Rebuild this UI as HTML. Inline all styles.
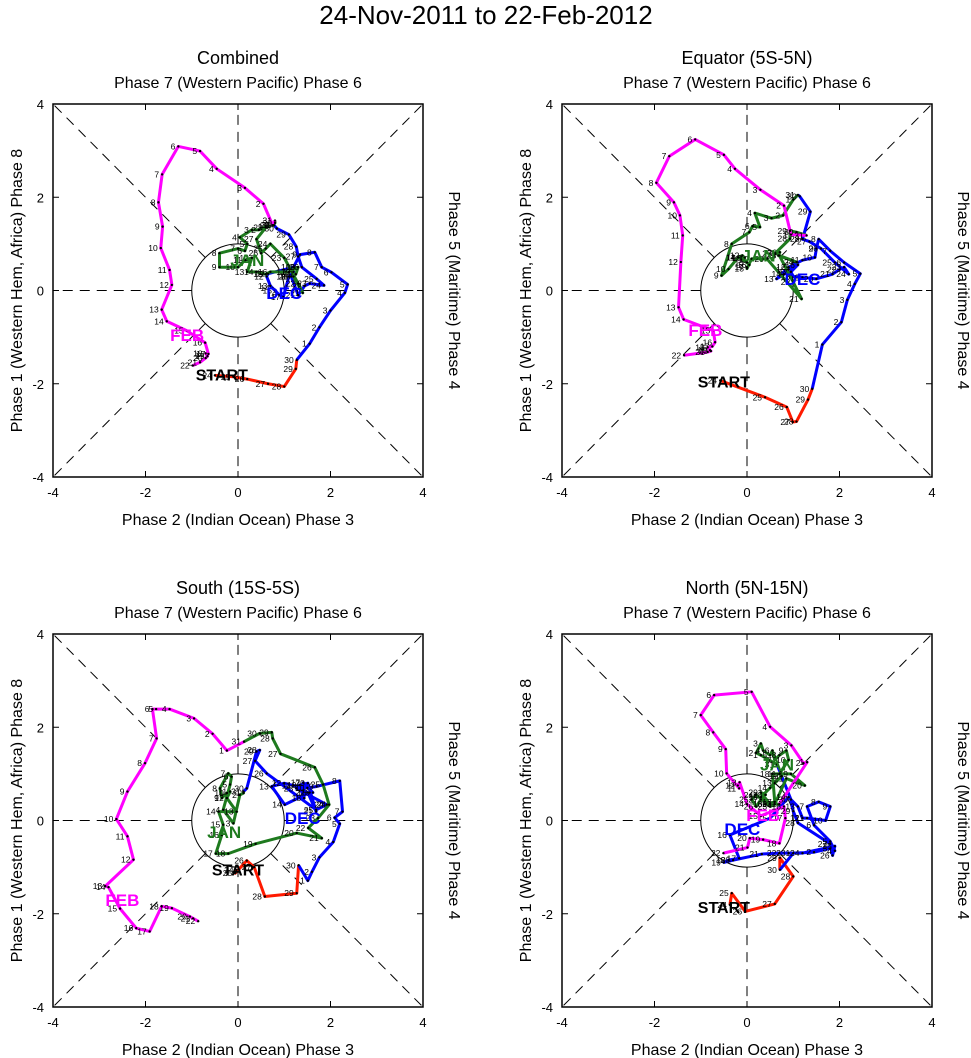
<!DOCTYPE html>
<html><head><meta charset="utf-8"><style>
body{margin:0;background:#fff;}
svg{display:block;font-family:"Liberation Sans",sans-serif;}
</style></head><body>
<svg id="chart" width="971" height="1058" viewBox="0 0 971 1058">
<text x="486" y="24" font-size="26" text-anchor="middle">24-Nov-2011 to 22-Feb-2012</text>
</svg>
<script>
const panelTitles = ["Combined","Equator (5S-5N)","South (15S-5S)","North (5N-15N)"];
const tickVals = [-4,-2,0,2,4];
const monthNames = ["START","DEC","JAN","FEB"];
const startDays = [24,1,1,1];

const p1Nov = [[-0.5,-1.82],[-0.1,-1.85],[0.2,-1.9],[0.65,-2.0],[1.0,-2.06],[1.25,-1.68],[1.27,-1.49]];
const p1Dec = [[1.55,-1.14],[1.76,-0.79],[2.0,-0.43],[2.31,-0.05],[2.37,0.13],[2.02,0.39],[1.81,0.5],[1.66,0.82],[1.34,0.77],[1.2,0.5],[0.65,0.36],[0.62,0.3],[0.7,0.1],[0.75,0.05],[0.8,0.0],[0.9,-0.1],[0.98,-0.14],[1.1,0.3],[1.2,0.4],[1.15,0.3],[1.3,-0.1],[1.44,0.1],[1.55,0.15],[1.86,0.11],[1.7,0.25],[1.38,0.5],[1.3,0.73],[1.26,0.94],[1.1,1.2],[0.84,1.33],[0.78,1.4]];
const p1Jan = [[0.6,1.37],[0.45,1.3],[0.3,1.3],[0.04,1.14],[0.2,1.0],[0.15,0.85],[0.0,0.9],[-0.4,0.8],[-0.4,0.5],[0.0,0.5],[0.15,0.65],[0.3,0.7],[0.2,0.4],[0.4,0.4],[0.6,0.35],[0.7,0.4],[1.1,0.4],[1.3,0.5],[1.25,0.35],[1.2,0.3],[1.4,-0.05],[1.3,0.15],[1.0,0.7],[0.7,1.0],[0.6,0.9],[0.5,0.8],[0.4,1.1],[0.6,1.35],[0.75,1.4],[0.8,1.45],[0.8,1.5]];
const p1Feb = [[0.75,1.4],[0.55,1.86],[0.15,2.2],[-0.46,2.61],[-0.82,2.99],[-1.29,3.09],[-1.64,2.49],[-1.72,1.89],[-1.63,1.37],[-1.67,0.91],[-1.48,0.44],[-1.43,0.12],[-1.65,-0.41],[-1.54,-0.66],[-1.11,-0.86],[-0.71,-1.12],[-0.64,-1.36],[-0.7,-1.35],[-0.66,-1.41],[-0.7,-1.45],[-0.82,-1.54],[-0.98,-1.61]];

const p2Nov = [[-0.58,-1.93],[0.39,-2.29],[0.86,-2.5],[0.99,-2.82],[1.07,-2.81],[1.32,-2.34],[1.41,-2.11]];
const p2Dec = [[1.63,-1.16],[2.04,-0.68],[2.17,-0.2],[2.33,0.14],[2.45,0.36],[2.1,0.6],[1.8,0.85],[1.55,1.1],[1.5,0.9],[1.47,0.71],[1.2,0.65],[0.9,0.5],[0.64,0.25],[0.8,0.35],[0.9,0.45],[1.1,0.55],[0.95,0.4],[1.0,0.3],[1.2,0.28],[1.5,0.25],[1.85,0.35],[2.0,0.45],[2.1,0.5],[2.2,0.35],[1.9,0.6],[1.6,0.9],[1.35,1.05],[1.2,1.1],[1.37,1.69],[1.14,2.02],[1.1,2.05]];
const p2Jan = [[1.0,1.95],[0.78,1.61],[0.53,1.55],[0.17,1.66],[0.28,1.36],[0.12,1.38],[0.05,1.25],[-0.33,1.0],[-0.55,0.32],[-0.4,0.46],[-0.19,0.71],[-0.1,0.75],[-0.05,0.7],[-0.19,0.71],[0.0,0.6],[0.05,0.55],[0.0,0.5],[0.0,0.47],[0.1,0.68],[0.43,0.68],[1.18,-0.18],[1.0,0.18],[0.7,0.75],[1.07,0.61],[0.68,0.75],[0.71,0.82],[0.6,0.79],[0.93,1.11],[0.93,1.28],[1.07,1.25],[1.29,1.18]];
const p2Feb = [[0.95,1.2],[0.8,1.82],[0.29,2.16],[-0.26,2.61],[-0.5,2.91],[-1.12,3.24],[-1.68,2.88],[-1.96,2.31],[-1.58,1.89],[-1.45,1.61],[-1.39,1.18],[-1.43,0.61],[-1.48,-0.36],[-1.37,-0.62],[-0.73,-0.86],[-0.69,-1.11],[-0.75,-1.2],[-0.85,-1.22],[-0.8,-1.28],[-0.78,-1.3],[-0.85,-1.32],[-1.36,-1.39]];

const p3Nov = [[-0.03,-1.06],[-0.06,-1.13],[0.19,-0.86],[0.35,-1.0],[0.58,-1.63],[1.27,-1.56],[1.31,-0.96]];
const p3Dec = [[1.51,-1.29],[1.6,-1.1],[1.76,-0.79],[2.06,-0.46],[2.2,-0.07],[2.09,0.06],[2.26,0.19],[2.2,0.85],[1.7,0.73],[1.5,0.7],[1.2,0.75],[1.0,0.8],[0.73,0.73],[1.01,0.34],[1.55,0.6],[1.62,0.6],[1.41,0.81],[1.43,0.48],[1.33,0.76],[1.51,0.8],[1.69,0.19],[1.51,0.6],[1.26,0.69],[1.92,0.34],[1.69,0.23],[0.62,1.01],[0.37,1.28],[0.47,1.51],[0.4,1.48],[0.19,0.69],[0.12,0.62]];
const p3Jan = [[0.12,0.59],[0.04,0.55],[-0.1,-0.06],[-0.32,0.23],[-0.17,0.77],[-0.14,0.94],[-0.21,1.01],[-0.39,0.69],[-0.35,0.48],[-0.24,0.59],[-0.17,0.62],[-0.24,0.48],[-0.03,0.19],[-0.42,0.19],[-0.32,-0.09],[-0.35,-0.31],[-0.48,-0.71],[-0.21,-0.71],[0.38,-0.5],[1.27,-0.27],[1.81,-0.38],[1.52,-0.16],[1.73,0.05],[1.97,0.34],[1.84,0.77],[1.66,1.14],[0.92,1.43],[0.75,1.76],[0.73,1.89],[0.47,1.87],[0.13,1.69]];
const p3Feb = [[-0.24,1.5],[-0.55,1.86],[-0.95,2.19],[-1.48,2.39],[-1.77,2.39],[-1.85,2.39],[-1.76,1.76],[-2.01,1.23],[-2.39,0.62],[-2.63,0.03],[-2.39,-0.34],[-2.26,-0.84],[-2.87,-1.41],[-2.8,-1.43],[-2.55,-1.89],[-2.2,-2.31],[-1.91,-2.38],[-1.65,-1.84],[-1.43,-1.88],[-1.04,-2.06],[-0.97,-2.1],[-0.86,-2.16]];

const p4Nov = [[-0.37,-1.81],[-0.33,-1.56],[-0.04,-1.95],[0.6,-1.79],[1.0,-1.2],[0.71,-0.8],[0.71,-1.06]];
const p4Dec = [[1.0,-0.7],[1.45,-0.68],[1.8,-0.6],[1.9,-0.65],[1.8,-0.45],[1.45,-0.1],[1.3,0.3],[1.55,0.4],[1.8,0.3],[1.7,0.0],[1.3,0.05],[1.2,0.05],[1.1,0.3],[0.9,0.5],[0.5,0.05],[-0.37,-0.31],[-0.17,-0.81],[-0.4,-0.85],[-0.5,-0.9],[-0.3,-0.85],[0.32,-0.72],[0.7,-0.7],[0.9,-0.7],[1.2,-0.7],[1.9,-0.55],[1.85,-0.75],[1.8,-0.5],[1.1,-0.05],[1.0,0.2],[0.95,0.45],[0.65,1.2]];
const p4Jan = [[0.3,1.4],[0.2,1.45],[0.3,1.65],[0.35,1.5],[0.5,1.4],[0.55,1.5],[0.6,1.3],[0.7,1.4],[0.85,1.5],[0.9,1.3],[0.7,1.0],[0.75,0.95],[0.6,0.8],[0.5,0.7],[0.3,0.5],[0.4,0.35],[0.6,0.4],[0.55,1.0],[0.95,1.0],[1.25,0.75],[0.85,0.9],[0.6,0.35],[0.5,0.3],[0.2,0.55],[0.1,0.45],[0.2,0.3],[0.3,0.45],[0.4,0.55],[0.3,0.6],[0.5,0.35],[0.7,0.35]];
const p4Feb = [[1.3,1.25],[1.22,1.23],[0.96,1.61],[0.5,2.01],[0.1,2.76],[-0.71,2.69],[-1.0,2.26],[-0.73,1.89],[-0.46,1.53],[-0.44,1.01],[-0.17,0.69],[-0.2,0.75],[-0.16,0.82],[0.0,0.35],[0.3,0.1],[0.8,0.3],[0.83,0.05],[0.7,-0.49],[0.35,-0.41],[0.06,-0.38],[0.01,-0.58],[-0.51,-0.7]];

const panelData = [[p1Nov,p1Dec,p1Jan,p1Feb],[p2Nov,p2Dec,p2Jan,p2Feb],[p3Nov,p3Dec,p3Jan,p3Feb],[p4Nov,p4Dec,p4Jan,p4Feb]];
const monthLabelPos = [
 [[-0.35,-1.8],[1.0,-0.05],[0.2,0.65],[-1.1,-0.95]],
 [[-0.5,-1.95],[1.2,0.25],[0.25,0.75],[-0.9,-0.85]],
 [[0.0,-1.05],[1.4,0.05],[-0.3,-0.25],[-2.5,-1.7]],
 [[-0.5,-1.85],[-0.1,-0.18],[0.65,1.2],[0.35,0.12]]
];

const colors=["#ff1a00","#0000ff","#1e7a1e","#ff00ff"];
const svg=document.getElementById('chart');
const NS="http://www.w3.org/2000/svg";
function mk(tag,attrs,parent){const e=document.createElementNS(NS,tag);for(const k in attrs)e.setAttribute(k,attrs[k]);(parent||svg).appendChild(e);return e;}
const origins=[[53,104],[562,104],[53,634],[562,634]];
const W=370,H=373;

panelData.forEach((months,pi)=>{
 const [L,T]=origins[pi];
 const sx=v=>L+(v+4)*W/8, sy=v=>T+(4-v)*H/8;
 const g=mk('g',{});
 
 
 const cx=L+W/2, cy=T+H/2;
 // titles
 let t=mk('text',{x:cx,y:T-40,'font-size':18,'text-anchor':'middle'},g);t.textContent=panelTitles[pi];
 
 t=mk('text',{x:cx,y:T-16,'font-size':16,'text-anchor':'middle'},g);t.textContent="Phase 7 (Western Pacific) Phase 6";
 
 t=mk('text',{x:cx,y:T+H+48,'font-size':16,'text-anchor':'middle'},g);t.textContent="Phase 2 (Indian Ocean) Phase 3";
 
 t=mk('text',{x:0,y:0,'font-size':16,'text-anchor':'middle',transform:`translate(${L-31},${cy}) rotate(-90)`},g);t.textContent="Phase 1 (Western Hem, Africa) Phase 8";
 
 t=mk('text',{x:0,y:0,'font-size':16,'text-anchor':'middle',transform:`translate(${L+W+26},${cy}) rotate(90)`},g);t.textContent="Phase 5 (Maritime) Phase 4";
 
 // ticks
 tickVals.forEach(v=>{
  let e=mk('text',{x:sx(v),y:T+H+20,'font-size':13,'text-anchor':'middle'},g);e.textContent=v;
  
  e=mk('text',{x:L-9,y:sy(v)+5,'font-size':13,'text-anchor':'end'},g);e.textContent=v;
  
  mk('line',{x1:sx(v),x2:sx(v),y1:T+H,y2:T+H-6,stroke:'#000','stroke-width':1},g);
  mk('line',{x1:sx(v),x2:sx(v),y1:T,y2:T+6,stroke:'#000','stroke-width':1},g);
  mk('line',{x1:L,x2:L+6,y1:sy(v),y2:sy(v),stroke:'#000','stroke-width':1},g);
  mk('line',{x1:L+W,x2:L+W-6,y1:sy(v),y2:sy(v),stroke:'#000','stroke-width':1},g);
 });
 // dashed lines from edge to circle
 const rx=W/8, ry=H/8;
 const dirs=[[1,0],[-1,0],[0,1],[0,-1],[1,1],[1,-1],[-1,1],[-1,-1]];
 dirs.forEach(([dx,dy])=>{
  const n=Math.hypot(dx,dy);
  mk('line',{x1:cx+dx/n*rx,y1:cy-dy/n*ry,x2:cx+dx*W/2,y2:cy-dy*H/2,stroke:'#000','stroke-width':1,'stroke-dasharray':'10,7'},g);
 });
 const c=mk('ellipse',{cx:cx,cy:cy,rx:rx,ry:ry,fill:'none',stroke:'#000','stroke-width':1},g);
 
 const box=mk('rect',{x:L,y:T,width:W,height:H,fill:'none',stroke:'#000','stroke-width':1.5},g);
 
 // series
 let prev=null;
 months.forEach((pts,mi)=>{
  const all=prev?[prev].concat(pts):pts;
  const pl=mk('polyline',{points:all.map(p=>sx(p[0])+','+sy(p[1])).join(' '),fill:'none',stroke:colors[mi],'stroke-width':3,'stroke-linejoin':'round'},g);
  
  
  prev=pts[pts.length-1];
 });
 months.forEach((pts,mi)=>{
  pts.forEach((p,i)=>{
   mk('circle',{cx:sx(p[0]),cy:sy(p[1]),r:1.2,fill:'#000'},g);
   const lb=mk('text',{x:sx(p[0])-3,y:sy(p[1])+3,'font-size':8.5,'text-anchor':'end'},g);
   lb.textContent=startDays[mi]+i;
   
  });
 });
 monthLabelPos[pi].forEach((p,mi)=>{
  const e=mk('text',{x:sx(p[0]),y:sy(p[1])+6,'font-size':mi==0?16:17,'font-weight':'bold','text-anchor':'middle',fill:mi==0?'#000':colors[mi]},g);
  e.textContent=monthNames[mi];
  
  
 });
});
</script>
</body></html>
